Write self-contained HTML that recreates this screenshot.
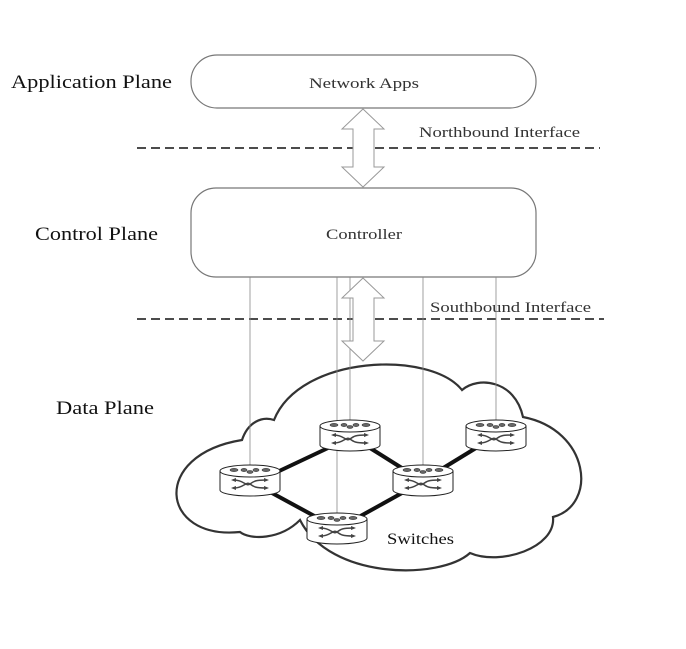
<!DOCTYPE html>
<html><head><style>
body{margin:0;background:#fff;}
svg{display:block;font-family:"Liberation Serif",serif;}
</style></head><body>
<svg width="686" height="649" viewBox="0 0 686 649">
<defs>
<g id="sw">
<ellipse cx="0" cy="-6" rx="30" ry="6" fill="#fff" stroke="#222" stroke-width="1"/>
<path d="M-30,-6 V13 A30,6 0 0 0 30,13 V-6" fill="#fff" stroke="#222" stroke-width="1"/>
<path d="M-30,-6 A30,6 0 0 0 30,-6" fill="none" stroke="#222"/>
<g fill="#666" stroke="#333" stroke-width="0.6">
<ellipse cx="-16" cy="-7" rx="4" ry="1.6"/><ellipse cx="-6" cy="-7" rx="3" ry="1.6"/><ellipse cx="6" cy="-7" rx="3" ry="1.6"/><ellipse cx="16" cy="-7" rx="4" ry="1.6"/><ellipse cx="0" cy="-5" rx="3" ry="1.4"/>
</g>
<path d="M-16,3 C-6,3 -4,10 0,7 C4,4 6,3 16,3 M-16,11 C-6,11 -4,4 0,7 C4,10 6,11 16,11" fill="none" stroke="#444" stroke-width="1.5"/>
<path d="M-19,3 l5,-2 v4z M-19,11 l5,-2 v4z M19,3 l-5,-2 v4z M19,11 l-5,-2 v4z" fill="#444"/>
</g>
</defs>
<text x="11" y="88" font-size="19" fill="#111" textLength="161" lengthAdjust="spacingAndGlyphs">Application Plane</text>
<text x="35" y="240" font-size="19" fill="#111" textLength="123" lengthAdjust="spacingAndGlyphs">Control Plane</text>
<text x="56" y="414" font-size="19" fill="#111" textLength="98" lengthAdjust="spacingAndGlyphs">Data Plane</text>

<rect x="191" y="55" width="345" height="53" rx="26" fill="#fff" stroke="#777" stroke-width="1.2"/>
<text x="309" y="88" font-size="15" fill="#333" textLength="110" lengthAdjust="spacingAndGlyphs">Network Apps</text>
<rect x="191" y="188" width="345" height="89" rx="25" fill="#fff" stroke="#777" stroke-width="1.2"/>
<text x="326" y="239" font-size="15" fill="#333" textLength="76" lengthAdjust="spacingAndGlyphs">Controller</text>

<line x1="137" y1="148" x2="600" y2="148" stroke="#111" stroke-width="1.5" stroke-dasharray="9,5"/>
<line x1="137" y1="319" x2="604" y2="319" stroke="#111" stroke-width="1.5" stroke-dasharray="9,5"/>
<text x="419" y="137" font-size="15" fill="#333" textLength="161" lengthAdjust="spacingAndGlyphs">Northbound Interface</text>
<text x="430" y="312" font-size="15" fill="#333" textLength="161" lengthAdjust="spacingAndGlyphs">Southbound Interface</text>

<path d="M363,109 L384,129 L374,129 L374,167 L384,167 L363,187 L342,167 L353,167 L353,129 L342,129 Z" fill="#fff" stroke="#999" stroke-width="1"/>

<path d="M242,440 C248,422 262,416 274,420 C300,355 430,350 462,390 C478,376 515,380 523,417 C590,430 598,505 553,517 C556,548 500,566 470,553 C440,580 330,580 300,520 C280,540 250,540 240,532 C160,540 150,455 242,440 Z" fill="#fff" stroke="#333" stroke-width="2.2"/>

<g stroke="#888" stroke-width="0.8">
<line x1="250" y1="277" x2="250" y2="488"/>
<line x1="337" y1="277" x2="337" y2="535"/>
<line x1="350" y1="277" x2="350" y2="440"/>
<line x1="423" y1="277" x2="423" y2="488"/>
<line x1="496" y1="277" x2="496" y2="440"/>
</g>
<path d="M363,278 L384,298 L374,298 L374,341 L384,341 L363,361 L342,341 L353,341 L353,298 L342,298 Z" fill="#fff" stroke="#999" stroke-width="1"/>

<g stroke="#111" stroke-width="4">
<line x1="275" y1="473" x2="328" y2="448"/>
<line x1="370" y1="448" x2="405" y2="470"/>
<line x1="440" y1="470" x2="476" y2="448"/>
<line x1="272" y1="493" x2="318" y2="518"/>
<line x1="357" y1="518" x2="402" y2="493"/>
</g>
<use href="#sw" x="350" y="432"/>
<use href="#sw" x="496" y="432"/>
<use href="#sw" x="250" y="477"/>
<use href="#sw" x="423" y="477"/>
<use href="#sw" x="337" y="525"/>
<text x="387" y="544" font-size="16" fill="#111" textLength="67" lengthAdjust="spacingAndGlyphs">Switches</text>
</svg>
</body></html>
